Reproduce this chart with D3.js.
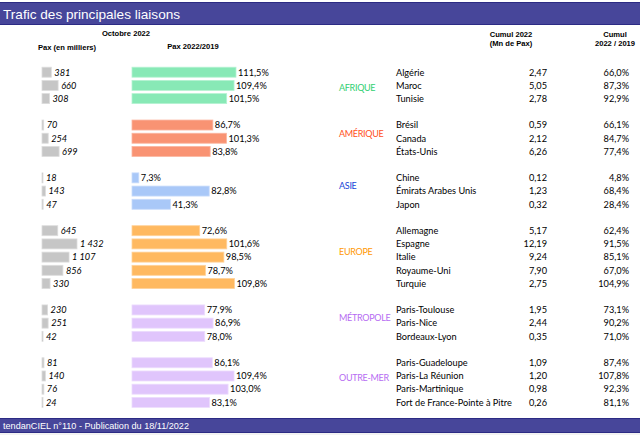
<!DOCTYPE html>
<html><head><meta charset="utf-8">
<script src="https://cdn.jsdelivr.net/npm/d3@7"></script>
<style>
html,body{margin:0;padding:0;background:#fff;}
svg{display:block;}
</style></head>
<body>
<svg id="c" width="640" height="435"></svg>
<script>
const title = "Trafic des principales liaisons";
const footer = "tendanCIEL n°110 - Publication du 18/11/2022";
const regions = ["AFRIQUE","AMÉRIQUE","ASIE","EUROPE","MÉTROPOLE","OUTRE-MER"];
const regionSizes = [3,3,3,5,3,4];
const routes = ["Algérie","Maroc","Tunisie","Brésil","Canada","États-Unis","Chine","Émirats Arabes Unis","Japon",
  "Allemagne","Espagne","Italie","Royaume-Uni","Turquie","Paris-Toulouse","Paris-Nice","Bordeaux-Lyon",
  "Paris-Guadeloupe","Paris-La Réunion","Paris-Martinique","Fort de France-Pointe à Pitre"];
const pax = [381,660,308,70,254,699,18,143,47,645,1432,1107,856,330,230,251,42,81,140,76,24];
const ratio = [111.5,109.4,101.5,86.7,101.3,83.8,7.3,82.8,41.3,72.6,101.6,98.5,78.7,109.8,77.9,86.9,78.0,86.1,109.4,103.0,83.1];
const cumul = [2.47,5.05,2.78,0.59,2.12,6.26,0.12,1.23,0.32,5.17,12.19,9.24,7.90,2.75,1.95,2.44,0.35,1.09,1.20,0.98,0.26];
const cumulRatio = [66.0,87.3,92.9,66.1,84.7,77.4,4.8,68.4,28.4,62.4,91.5,85.1,67.0,104.9,73.1,90.2,71.0,87.4,107.8,92.3,81.1];

const barColors = ["#88e9b6","#f99373","#a9c8f8","#ffb960","#e0c5fc","#e0c5fc"];
const barStrokes = ["#b5f2d2","#fbb6a0","#c9dcfb","#ffd29a","#ecdcfd","#ecdcfd"];
const labelColors = ["#2fd072","#ff4f22","#1646d8","#ff9a05","#b66cf2","#b66cf2"];

const loc = d3.formatLocale({decimal:",", thousands:"\u00a0", grouping:[3], currency:["","€"]});
const fInt = loc.format(",d"), f1 = loc.format(".1f"), f2 = loc.format(".2f");

const rows = [];
let k = 0;
regions.forEach((r, gi) => {
  for (let j = 0; j < regionSizes[gi]; j++) { rows.push({key:"r"+k, i:k, g:gi}); k++; }
  if (gi < regions.length - 1) rows.push({key:"gap"+gi, gap:true});
});
const keys = rows.map(d => d.key);
const data = rows.filter(d => !d.gap);

const svg = d3.select("#c");
const W = 640, H = 435;

svg.append("rect").attr("x",0).attr("y",2).attr("width",W).attr("height",23).attr("fill","#47469a");
svg.append("line").attr("x1",0).attr("x2",W).attr("y1",2.5).attr("y2",2.5).attr("stroke","#2c2b84");
svg.append("line").attr("x1",0).attr("x2",W).attr("y1",24.5).attr("y2",24.5).attr("stroke","#2c2b84");
svg.append("text").attr("x",3).attr("y",18.5).attr("fill","#fff")
  .style("font-family","Liberation Sans, Arial, sans-serif").style("font-size","13.6px").text(title);

svg.append("rect").attr("x",0).attr("y",418).attr("width",W).attr("height",15).attr("fill","#47469a");
svg.append("line").attr("x1",0).attr("x2",W).attr("y1",418.5).attr("y2",418.5).attr("stroke","#2c2b84");
svg.append("line").attr("x1",0).attr("x2",W).attr("y1",432.5).attr("y2",432.5).attr("stroke","#2c2b84");
svg.append("rect").attr("x",0).attr("y",433).attr("width",W).attr("height",2).attr("fill","#f2f2f2");
svg.append("text").attr("x",3).attr("y",429).attr("fill","#fff")
  .style("font-family","Liberation Sans, Arial, sans-serif").style("font-size","9.1px").text(footer);

const hdr = svg.append("g").style("font-family","Liberation Sans, Arial, sans-serif")
  .style("font-size","7.6px").style("font-weight","bold").attr("fill","#000").attr("text-anchor","middle");
[["Octobre 2022",126,36],["Pax (en milliers)",67,50],["Pax 2022/2019",193,49],
 ["Cumul 2022",511,37],["(Mn de Pax)",511,46],["Cumul",615,37],["2022 / 2019",615,46]]
 .forEach(h => hdr.append("text").attr("x",h[1]).attr("y",h[2]).text(h[0]));

const y = d3.scaleBand().domain(keys).range([65.6, 409]).paddingInner(0.24).paddingOuter(0.12);
const xPax = d3.scaleLinear().domain([0, 1432]).range([42, 77]);
const xPct = d3.scaleLinear().domain([0, 111.5]).range([132, 236]);
const bh = 10;
const yc = d => y(d.key) + y.bandwidth()/2;

const body = svg.append("g").style("font-family","Lato, 'Open Sans', sans-serif").style("font-size","9.2px").attr("fill","#000");

body.selectAll(".pb").data(data).join("rect")
  .attr("x", xPax(0)).attr("y", d => yc(d) - bh/2)
  .attr("width", d => Math.max(1, xPax(pax[d.i]) - xPax(0))).attr("height", bh)
  .attr("fill","#c6c6c6").attr("stroke","#dddddd").attr("stroke-width",0.8);
body.selectAll(".pl").data(data).join("text")
  .attr("x", d => Math.max(xPax(0)+1, xPax(pax[d.i])) + 3).attr("y", d => yc(d) + 3.3)
  .style("font-style","italic").text(d => fInt(pax[d.i]));

body.selectAll(".rb").data(data).join("rect")
  .attr("x", xPct(0)).attr("y", d => yc(d) - bh/2)
  .attr("width", d => xPct(ratio[d.i]) - xPct(0)).attr("height", bh)
  .attr("fill", d => barColors[d.g]).attr("stroke", d => barStrokes[d.g]).attr("stroke-width",0.8);
body.selectAll(".rl").data(data).join("text")
  .attr("x", d => xPct(ratio[d.i]) + 2).attr("y", d => yc(d) + 3.3)
  .text(d => f1(ratio[d.i]) + "%");

regions.forEach((r, gi) => {
  const g = data.filter(d => d.g === gi);
  const mid = (yc(g[0]) + yc(g[g.length-1])) / 2;
  const off = gi === 0 ? 2 : -5;
  body.append("text").attr("x", 339).attr("y", mid + off + 3.3).attr("fill", labelColors[gi])
    .style("font-size","9px").style("letter-spacing","-0.3px").text(r);
});

body.selectAll(".rn").data(data).join("text")
  .attr("x", 396).attr("y", d => yc(d) + 3.3).text(d => routes[d.i]);
body.selectAll(".cv").data(data).join("text")
  .attr("x", 547).attr("y", d => yc(d) + 3.3).attr("text-anchor","end").text(d => f2(cumul[d.i]));
body.selectAll(".cr").data(data).join("text")
  .attr("x", 629).attr("y", d => yc(d) + 3.3).attr("text-anchor","end").text(d => f1(cumulRatio[d.i]) + "%");
</script>
</body></html>
